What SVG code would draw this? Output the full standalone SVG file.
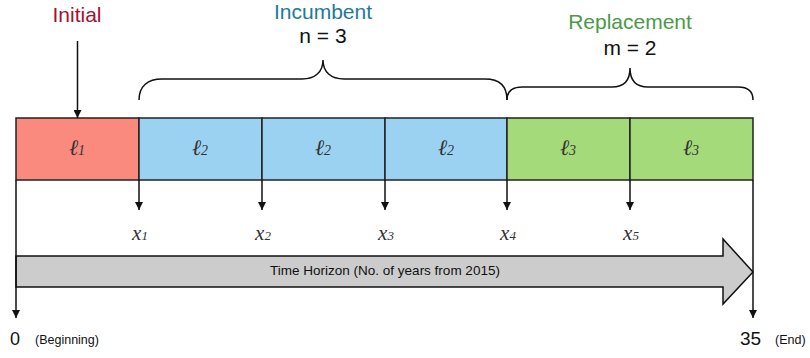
<svg xmlns="http://www.w3.org/2000/svg" width="810" height="358" viewBox="0 0 810 358">
<style>
.ln{stroke:#111;stroke-width:1.5;fill:none}
.cell{stroke:#222;stroke-width:1.5}
.sans{font-family:"Liberation Sans",Arial,sans-serif}
.script{font-family:"Liberation Serif","DejaVu Serif",serif;font-style:italic;fill:#333;text-anchor:middle}
.title{font-size:21px;text-anchor:middle}
</style>
<defs>
<marker id="ah" viewBox="0 0 10 10" refX="10" refY="5" markerWidth="8" markerHeight="8" markerUnits="userSpaceOnUse" orient="auto">
<path d="M0,0 L10,5 L0,10 z" fill="#111"/>
</marker>
</defs>
<rect width="810" height="358" fill="#fff"/>
<g id="time-horizon">
<path d="M16,256 L723,256 L723,239 L753,272 L723,304 L723,287 L16,287 z" fill="#ccc" stroke="#111" stroke-width="1.5"/>
<text class="sans" x="385" y="275" font-size="13.5" text-anchor="middle" fill="#111">Time Horizon (No. of years from 2015)</text>
</g>
<g id="cell-l1"><rect class="cell" x="16" y="118" width="123" height="62" fill="#fa8a7d"/><text class="script" x="77" y="155" font-size="22">ℓ<tspan font-size="14">1</tspan></text></g>
<g id="cell-l2a"><rect class="cell" x="139" y="118" width="123" height="62" fill="#9bd2f1"/><text class="script" x="200" y="155" font-size="22">ℓ<tspan font-size="14">2</tspan></text></g>
<g id="cell-l2b"><rect class="cell" x="262" y="118" width="123" height="62" fill="#9bd2f1"/><text class="script" x="323" y="155" font-size="22">ℓ<tspan font-size="14">2</tspan></text></g>
<g id="cell-l2c"><rect class="cell" x="385" y="118" width="122" height="62" fill="#9bd2f1"/><text class="script" x="446" y="155" font-size="22">ℓ<tspan font-size="14">2</tspan></text></g>
<g id="cell-l3a"><rect class="cell" x="507" y="118" width="123" height="62" fill="#a5da7a"/><text class="script" x="568" y="155" font-size="22">ℓ<tspan font-size="14">3</tspan></text></g>
<g id="cell-l3b"><rect class="cell" x="630" y="118" width="123" height="62" fill="#a5da7a"/><text class="script" x="691" y="155" font-size="22">ℓ<tspan font-size="14">3</tspan></text></g>
<g id="connectors">
<line class="ln" x1="77.5" y1="41" x2="77.5" y2="118" marker-end="url(#ah)"/>
<line class="ln" x1="139" y1="180" x2="139" y2="210" marker-end="url(#ah)"/>
<line class="ln" x1="262" y1="180" x2="262" y2="210" marker-end="url(#ah)"/>
<line class="ln" x1="385" y1="180" x2="385" y2="210" marker-end="url(#ah)"/>
<line class="ln" x1="507" y1="180" x2="507" y2="210" marker-end="url(#ah)"/>
<line class="ln" x1="630" y1="180" x2="630" y2="210" marker-end="url(#ah)"/>
<line class="ln" x1="16" y1="180" x2="16" y2="318" marker-end="url(#ah)"/>
<line class="ln" x1="753" y1="180" x2="753" y2="318" marker-end="url(#ah)"/>
<path class="ln" d="M139,100 C139,86 148,79 162,79 L302,79 C315,79 323,72 323,60 C323,72 331,79 344,79 L485,79 C499,79 507,86 507,100"/>
<path class="ln" d="M507,100 C507,92 512,87 522,87 L612,87 C624,87 630,80 630,68 C630,80 636,87 648,87 L738,87 C748,87 753,92 753,100"/>
</g>
<g id="labels">
<text class="sans title" x="77" y="22" fill="#a3122f">Initial</text>
<text class="sans title" x="323" y="18.5" font-size="20" fill="#1e7a9c">Incumbent</text>
<text class="sans title" x="323" y="43" fill="#111">n = 3</text>
<text class="sans title" x="630" y="29" fill="#4a9a46">Replacement</text>
<text class="sans title" x="630" y="55" fill="#111">m = 2</text>
<text class="script" x="140" y="240" font-size="21">x<tspan font-size="13">1</tspan></text>
<text class="script" x="263" y="240" font-size="21">x<tspan font-size="13">2</tspan></text>
<text class="script" x="386" y="240" font-size="21">x<tspan font-size="13">3</tspan></text>
<text class="script" x="508" y="240" font-size="21">x<tspan font-size="13">4</tspan></text>
<text class="script" x="631" y="240" font-size="21">x<tspan font-size="13">5</tspan></text>
<text class="sans" x="10" y="345" font-size="18" fill="#111">0</text>
<text class="sans" x="35" y="344" font-size="12.5" fill="#111">(Beginning)</text>
<text class="sans" x="740" y="345" font-size="19" fill="#111">35</text>
<text class="sans" x="775" y="344" font-size="12.5" fill="#111">(End)</text>
</g>
</svg>
